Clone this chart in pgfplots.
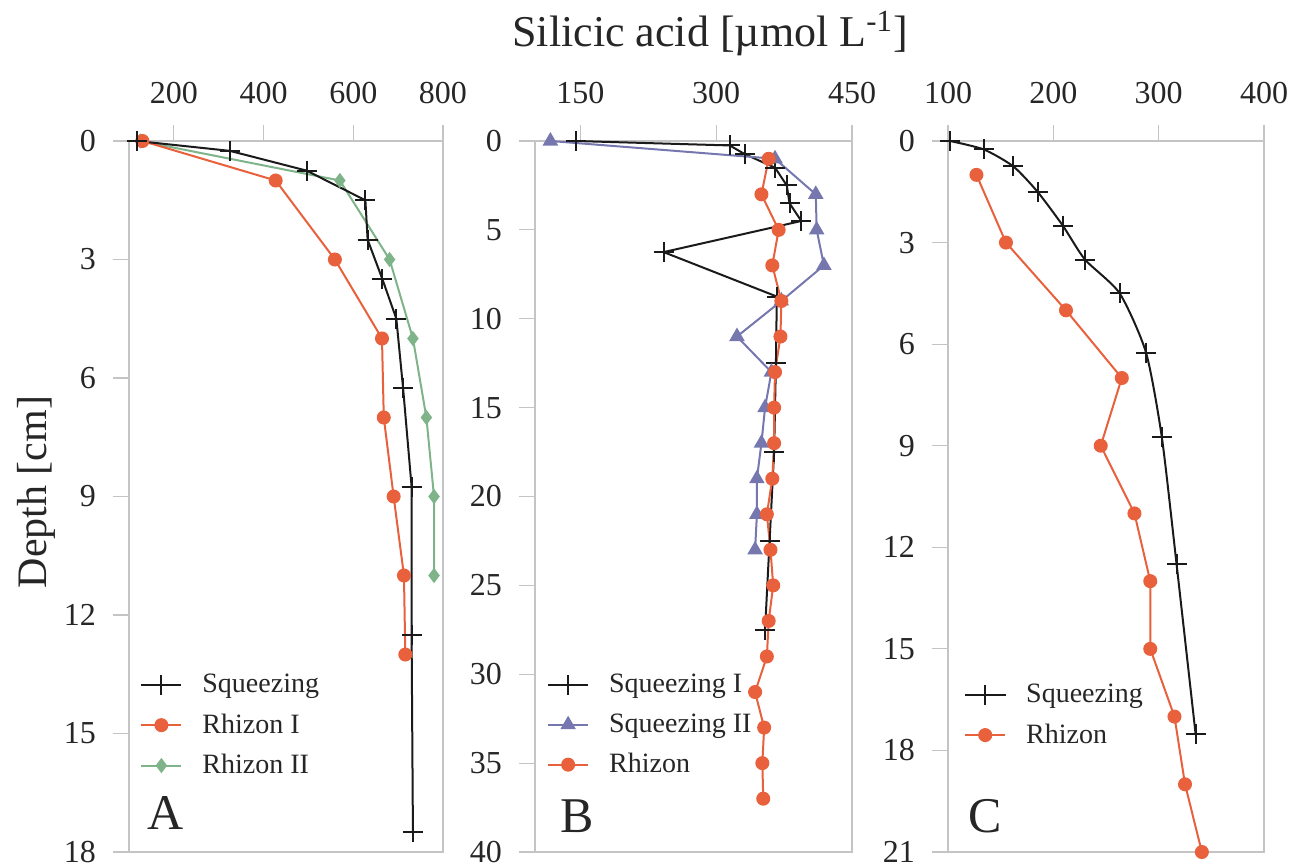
\documentclass[border=0pt]{standalone}
\usepackage{fontspec}
\setmainfont{Liberation Serif}
\usepackage{pgfplots}
\pgfplotsset{compat=1.18}
\usepackage{graphicx}

\definecolor{sq}{HTML}{1A1A1A}
\definecolor{rh}{HTML}{E8603C}
\definecolor{rhb}{HTML}{7FB38A}
\definecolor{sqb}{HTML}{7577AE}
\definecolor{ax}{HTML}{C4C4C4}
\definecolor{txt}{HTML}{262626}

\pgfplotsset{
  panel/.style={
    scale only axis, width=157pt, height=355.5pt, anchor=north west,
    y dir=reverse, clip=false,
    axis line style={ax, line width=0.6pt},
    tick style={ax, line width=0.6pt},
    major tick length=8pt, tick align=outside,
    xtick pos=right, xticklabel pos=right, ytick pos=left,
    /pgf/number format/assume math mode=true,
    ticklabel style={font=\fontsize{16}{18}\selectfont, text=txt},
    xticklabel style={yshift=7pt},
    yticklabel style={xshift=-5pt},
    legend style={draw=none, fill=none, font=\fontsize{14}{16}\selectfont, text=txt,
      cells={anchor=west}, row sep=5pt, column sep=8pt, inner sep=0pt},
    legend image code/.code={\draw[mark repeat=2,mark phase=2,#1] plot coordinates {(0pt,0pt) (10pt,0pt) (20pt,0pt)};},
  },
  sqs/.style={color=sq, line width=1pt, mark=+, mark size=5pt, mark options={line width=1pt}},
  rhs/.style={color=rh, line width=1pt, mark=*, mark size=3pt, mark options={fill=rh, draw=rh}},
  rh2s/.style={color=rhb, line width=1pt, mark=diamond*, mark size=3pt, mark options={fill=rhb, draw=rhb}},
  sq2s/.style={color=sqb, line width=1pt, mark=triangle*, mark size=3.5pt, mark options={fill=sqb, draw=sqb}},
}

\begin{document}
\begin{tikzpicture}
\path[use as bounding box] (0,0) rectangle (644.5pt,-432.5pt);

\node[anchor=base, font=\fontsize{22}{26}\selectfont, text=txt] at (355pt,-23.5pt) {Silicic acid [µmol L\textsuperscript{-1}]};
\node[rotate=90, anchor=base, font=\fontsize{21}{25}\selectfont, text=txt] at (23pt,-246pt) {Depth [cm]};

% Panel A
\begin{axis}[panel, at={(64.5pt,-70.5pt)}, width=157pt,
  xmin=100, xmax=800, xtick={200,400,600,800},
  ymin=0, ymax=18, ytick={0,3,...,18},
  legend style={at={(axis description cs:0.035,0.256)}, anchor=north west}]
\addlegendimage{sqs}
\addlegendimage{rhs}
\addlegendimage{rh2s}
\addplot[rh2s, forget plot] coordinates {(125,0) (570,1) (681,3) (733,5) (763,7) (780,9) (780,11)};
\addplot[rhs, forget plot] coordinates {(130,0) (427,1) (559,3) (664,5) (668,7) (690,9) (713,11) (716,13)};
\addplot[sqs, forget plot] coordinates {(118,0) (325,0.25) (496,0.75) (627,1.5) (632,2.5) (665,3.5) (696,4.5) (711,6.25) (730,8.75) (730,12.5) (733,17.5)};
\legend{Squeezing, Rhizon I, Rhizon II}
\node[anchor=base west, font=\fontsize{25}{30}\selectfont, text=txt] at (axis description cs:0.035,0.031) {A};
\end{axis}

% Panel B
\begin{axis}[panel, at={(267.5pt,-70.5pt)}, width=158.5pt,
  xmin=100, xmax=450, xtick={150,300,450},
  ymin=0, ymax=40, ytick={0,5,...,40},
  legend style={at={(axis description cs:0.037,0.256)}, anchor=north west}]
\addplot[sqs] coordinates {(145,0) (315,0.25) (332,0.75) (365,1.5) (378,2.5) (381,3.5) (394,4.5) (242,6.25) (367,8.75) (366,12.5) (364,17.5) (359,22.5) (354,27.5)};
\addplot[sq2s] coordinates {(117,0) (365,1) (410,3) (411,5) (419,7) (372,9) (323,11) (361,13) (354,15) (350,17) (345,19) (345,21) (343,23)};
\addplot[rhs] coordinates {(358,1) (350,3) (369,5) (362,7) (372,9) (371,11) (365,13) (364,15) (364,17) (362,19) (356,21) (360,23) (363,25) (358,27) (356,29) (343,31) (353,33) (351,35) (352,37)};
\legend{Squeezing I, Squeezing II, Rhizon}
\node[anchor=base west, font=\fontsize{25}{30}\selectfont, text=txt] at (axis description cs:0.057,0.028) {B};
\end{axis}

% Panel C
\begin{axis}[panel, at={(474pt,-70.5pt)}, width=158pt,
  xmin=100, xmax=400, xtick={100,200,300,400},
  ymin=0, ymax=21, ytick={0,3,...,21},
  legend style={at={(axis description cs:0.05,0.242)}, anchor=north west}]
\addplot[sqs, smooth, tension=0.4] coordinates {(102,0) (134,0.25) (162,0.75) (185,1.5) (209,2.5) (230,3.5) (263,4.5) (288,6.25) (303,8.75) (317,12.5) (335,17.5)};
\addplot[rhs] coordinates {(127,1) (155,3) (212,5) (265,7) (245,9) (277,11) (292,13) (292,15) (315,17) (325,19) (341,21)};
\legend{Squeezing, Rhizon}
\node[anchor=base west, font=\fontsize{25}{30}\selectfont, text=txt] at (axis description cs:0.044,0.028) {C};
\end{axis}
\end{tikzpicture}
\end{document}
